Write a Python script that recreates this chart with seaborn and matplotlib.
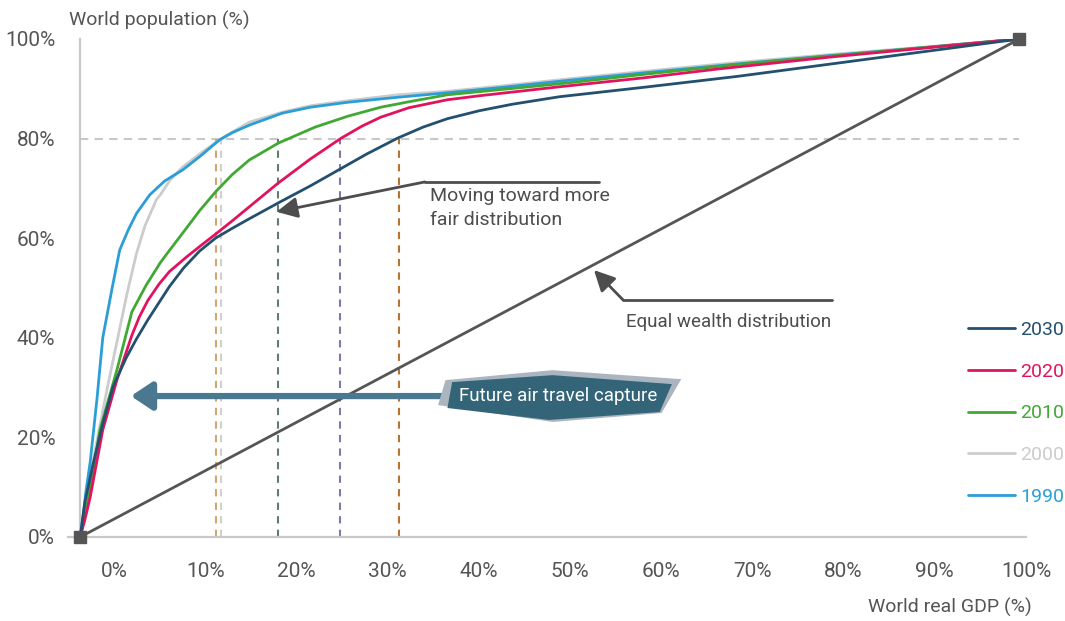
import matplotlib
matplotlib.use("Agg")
import matplotlib.pyplot as plt
from matplotlib.patches import Polygon
import seaborn as sns
import numpy as np
import pandas as pd

# curves: share of world GDP (x) vs share of population (y)
years = ["2030", "2020", "2010", "2000", "1990"]

gdp_2030 = [0, 0.5, 1.4, 2.5, 3.5, 4.9, 6.0, 7.2, 8.4, 9.5, 11.0, 12.7, 14.4, 16.2, 18.0, 21.1,
            24.5, 27.5, 30.5, 33.8, 36.5, 39.1, 42.5, 46, 51, 60, 70, 80, 90, 100]
pop_2030 = [0, 7, 14.9, 23.5, 30.2, 36.0, 39.8, 43.6, 47.1, 50.3, 54.0, 57.4, 60.0, 62.0, 63.9, 67.1,
            70.5, 73.7, 76.9, 80.1, 82.3, 84.0, 85.6, 86.9, 88.4, 90.3, 92.5, 95.0, 97.5, 100]

gdp_2020 = [0, 0.5, 1.06, 2.4, 3.9, 5.5, 6.3, 7.2, 8.4, 9.5, 11.3, 12.9, 14.4, 16.2, 18.0, 21.1,
            24.5, 27.8, 30, 32.0, 35, 39.1, 42.5, 51, 60, 68, 80, 90, 100]
pop_2020 = [0, 3.5, 8, 21.5, 31.5, 40.5, 44.2, 47.5, 50.8, 53.3, 56.2, 58.6, 60.8, 63.5, 66.3, 71.1,
            75.9, 80.1, 82.5, 84.3, 86.2, 87.8, 88.6, 90.4, 92.2, 94.0, 96.4, 98.2, 100]

gdp_2010 = [0, 0.9, 2.1, 3.9, 5.5, 7.0, 8.5, 9.2, 10.9, 12.7, 14.5, 16.2, 18.0, 21.1, 25.0,
            28.5, 32.0, 35, 39.1, 46.7, 52, 60, 70, 80, 90, 100]
pop_2010 = [0, 8, 21.5, 33.5, 45.2, 50.5, 55.0, 56.8, 61.0, 65.5, 69.5, 72.8, 75.7, 79.1, 82.3,
            84.5, 86.3, 87.4, 88.8, 90.2, 91.2, 92.9, 94.9, 96.6, 98.3, 100]

gdp_2000 = [0, 1, 2, 3, 4, 5, 6, 6.9, 8.1, 8.6, 9.5, 10.9, 13, 15.1, 18.0, 21.5, 24.5, 28.5,
            33.8, 39.1, 45, 52, 60, 70, 80, 90, 100]
pop_2000 = [0, 11.5, 21.5, 31, 40, 49, 57, 62.5, 67.7, 68.9, 71.5, 74.3, 77.3, 80.1, 83.3, 85.3,
            86.6, 87.6, 88.8, 89.5, 90.6, 92.0, 93.5, 95.3, 96.9, 98.4, 100]

gdp_1990 = [0, 0.34, 0.6, 1.06, 1.8, 2.4, 3.4, 4.2, 5.1, 6.0, 7.4, 9.0, 10.9, 12.8, 14.8, 16.2,
            18.0, 21.5, 24.5, 28.5, 33.8, 39.1, 45, 52, 60, 70, 80, 90, 100]
pop_1990 = [0, 4.8, 9, 15, 28, 40, 50, 57.6, 61.6, 65, 68.7, 71.5, 73.7, 76.5, 79.7, 81.2,
            82.7, 85.1, 86.3, 87.3, 88.3, 89.2, 90.3, 91.7, 93.2, 95.0, 96.7, 98.3, 100]

equal_gdp = [0, 100]
equal_pop = [0, 100]

# GDP share at which each year's curve reaches 80% of population
marker_years = ["1990", "2000", "2010", "2020", "2030"]
gdp_at_80 = [14.5, 15.0, 21.1, 27.7, 33.9]
threshold = 80

x_tick_labels = [f"{v}%" for v in range(0, 101, 10)]
y_tick_labels = [f"{v}%" for v in range(0, 101, 20)]

colors = {"2030": "#23506f", "2020": "#e2135e", "2010": "#41a834",
          "2000": "#cccccc", "1990": "#2b9ed8"}
drop_colors = ["#d4a56c", "#d0d0d0", "#5e7f6e", "#8676a6", "#b87333"]

frames = []
for yr, gx, py in [("2030", gdp_2030, pop_2030), ("2020", gdp_2020, pop_2020),
                   ("2010", gdp_2010, pop_2010), ("2000", gdp_2000, pop_2000),
                   ("1990", gdp_1990, pop_1990)]:
    frames.append(pd.DataFrame({"year": yr, "gdp": gx, "pop": py}))
df = pd.concat(frames, ignore_index=True)

sns.set_style("white")
plt.rcParams["font.family"] = ["Roboto", "DejaVu Sans"]
txt = "#555555"
axis_grey = "#c8c8c8"

fig = plt.figure(figsize=(10.65, 6.21), dpi=100)
ax = fig.add_axes([68 / 1065, 1 - 537 / 621, (1026 - 68) / 1065, (537 - 39) / 621])
ax.set_xlim(-1.3, 100)
ax.set_ylim(0, 100)

# 80% reference and drop lines
ax.plot([0, 100], [threshold, threshold], color=axis_grey, lw=1.5, ls=(0, (4, 3)), zorder=1)
for gx, c in zip(gdp_at_80, drop_colors):
    ax.plot([gx, gx], [0, threshold], color=c, lw=1.5, ls=(0, (3.5, 3)), zorder=1)

# equal distribution line
ax.plot(equal_gdp, equal_pop, color="#555555", lw=2, zorder=2)
ax.plot(equal_gdp, equal_pop, ls="none", marker="s", ms=8, color="#555555",
        zorder=6, clip_on=False)

for yr in ["2000", "1990", "2010", "2020", "2030"]:
    sub = df[df["year"] == yr]
    sns.lineplot(data=sub, x="gdp", y="pop", color=colors[yr], lw=2, sort=False,
                 ax=ax, label=yr, zorder=4)

# legend
handles, labels = ax.get_legend_handles_labels()
order = [labels.index(y) for y in years]
if ax.get_legend():
    ax.get_legend().remove()
fig.legend([handles[i] for i in order], years, loc="upper left",
           bbox_to_anchor=(968 / 1065, 1 - 321 / 621), frameon=False,
           fontsize=14, handlelength=2.4, handletextpad=0.3,
           labelspacing=1.22, borderpad=0, borderaxespad=0,
           labelcolor="linecolor")

# axes styling
for s in ["top", "right"]:
    ax.spines[s].set_visible(False)
ax.spines["left"].set_position(("data", 0))
for s in ["left", "bottom"]:
    ax.spines[s].set_color(axis_grey)
    ax.spines[s].set_linewidth(1.6)

ax.set_yticks(range(0, 101, 20))
ax.set_yticklabels(y_tick_labels)
ax.set_yticks(range(10, 100, 20), minor=True)
ax.tick_params(axis="y", which="both", length=8, width=1.6, color=axis_grey,
               direction="out", labelsize=15, labelcolor=txt, pad=10)

label_pos = np.linspace(3.6, 100.7, 11)
ax.set_xticks(label_pos)
ax.set_xticklabels(x_tick_labels)
ax.set_xticks(range(0, 101, 10), minor=True)
ax.tick_params(axis="x", which="major", length=0, labelsize=15, labelcolor=txt, pad=18)
ax.tick_params(axis="x", which="minor", length=8, width=1.6, color=axis_grey, direction="out")
ax.set_xlabel("")
ax.set_ylabel("")

fig.text(69 / 1065, 1 - 20 / 621, "World population (%)", ha="left", va="center",
         fontsize=14, color=txt)
fig.text(1032 / 1065, 1 - 607 / 621, "World real GDP (%)", ha="right", va="center",
         fontsize=14, color=txt)

# annotations
ann = "#4d4d4d"
ax.plot([36.7, 55.2], [71.3, 71.3], color=ann, lw=2, zorder=5)
ax.annotate("", xy=(20.9, 65.3), xytext=(36.7, 71.3),
            arrowprops=dict(arrowstyle="-|>,head_length=0.9,head_width=0.45", color=ann,
                            lw=2, mutation_scale=14, shrinkA=0, shrinkB=0), zorder=5)
ax.text(37.2, 66.0, "Moving toward more\nfair distribution", ha="left", va="center",
        fontsize=14, color=ann, linespacing=1.45)

ax.plot([57.8, 80.0], [47.6, 47.6], color=ann, lw=2, zorder=5)
ax.annotate("", xy=(54.7, 53.6), xytext=(57.8, 47.6),
            arrowprops=dict(arrowstyle="-|>,head_length=0.9,head_width=0.45", color=ann,
                            lw=2, mutation_scale=14, shrinkA=0, shrinkB=0), zorder=5)
ax.text(69.0, 43.2, "Equal wealth distribution", ha="center", va="center",
        fontsize=13.5, color=ann)

# future air travel capture callout
ax.annotate("", xy=(5.4, 28.3), xytext=(39.5, 28.3),
            arrowprops=dict(arrowstyle="-|>,head_length=0.9,head_width=0.6", color="#4a7890",
                            lw=4.5, mutation_scale=14, shrinkA=0, shrinkB=0), zorder=5)
shadow = Polygon([(38.9, 31.5), (50.3, 33.5), (64.0, 31.7), (61.9, 24.9), (50.3, 23.1),
                  (38.1, 26.5)], closed=True, facecolor="#aab5c0", edgecolor="none", zorder=6)
box = Polygon([(39.6, 31.1), (50.3, 32.5), (63.0, 30.7), (61.7, 25.1), (49.9, 23.5),
               (39.1, 25.9)], closed=True, facecolor="#346478", edgecolor="none", zorder=7)
ax.add_patch(shadow)
ax.add_patch(box)
ax.text(50.9, 28.4, "Future air travel capture", ha="center", va="center",
        fontsize=13.5, color="white", zorder=8)

fig.savefig("out.png", dpi=100)
